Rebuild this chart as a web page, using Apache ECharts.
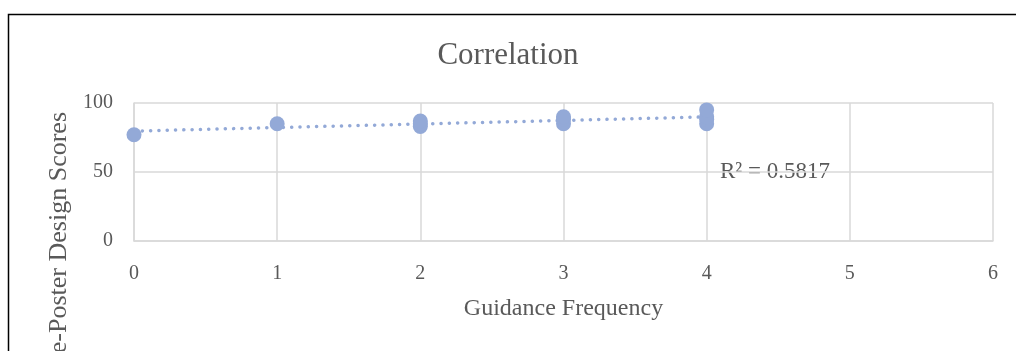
<!DOCTYPE html>
<html><head><meta charset="utf-8">
<script src="https://cdn.jsdelivr.net/npm/echarts@6/dist/echarts.min.js"></script>
<style>html,body{margin:0;padding:0;background:#fff}#c{width:1016px;height:351px}</style>
</head><body><div id="c"></div>
<script>
const guidance = [0, 1, 2, 2, 2, 3, 3, 3, 4, 4, 4, 4];
const scores   = [77, 85, 83, 85, 87, 85, 88, 90, 85, 88, 90, 95];
const xTicks = [0, 1, 2, 3, 4, 5, 6];
const yTicks = [0, 50, 100];
const rSquaredText = 'R² = 0.5817';

// linear trendline from the data
const n = guidance.length;
const mx = guidance.reduce((a,b)=>a+b,0)/n;
const my = scores.reduce((a,b)=>a+b,0)/n;
let sxy=0, sxx=0;
for (let i=0;i<n;i++){ sxy+=(guidance[i]-mx)*(scores[i]-my); sxx+=(guidance[i]-mx)**2; }
const slope = sxy/sxx, icpt = my - slope*mx;
const xMinD = Math.min(...guidance), xMaxD = Math.max(...guidance);
const trend = [[xMinD, icpt+slope*xMinD],[xMaxD, icpt+slope*xMaxD]];

const font = '"Liberation Serif", "DejaVu Serif", serif';
const gray = '#595959';
const mark = '#93A9D7';
const chart = echarts.init(document.getElementById('c'));
chart.setOption({
  animation:false,
  title:{text:'Correlation', left:'center', top:35, textStyle:{fontFamily:font,fontWeight:'normal',fontSize:31,color:gray}},
  grid:{left:134,right:23,top:103,bottom:110},
  xAxis:{type:'value',min:xTicks[0],max:xTicks[xTicks.length-1],interval:1,
    name:'Guidance Frequency',nameLocation:'middle',nameGap:56,
    nameTextStyle:{fontFamily:font,fontSize:24,color:gray},
    axisLine:{lineStyle:{color:'#d9d9d9',width:1.5}},axisTick:{show:false},
    axisLabel:{fontFamily:font,fontSize:20,color:gray,margin:23},
    splitLine:{show:true,lineStyle:{color:'#d9d9d9',width:1.5}}},
  yAxis:{type:'value',min:yTicks[0],max:yTicks[yTicks.length-1],interval:50,
    axisLine:{show:true,lineStyle:{color:'#d9d9d9',width:1.5}},axisTick:{show:false},
    axisLabel:{fontFamily:font,fontSize:20,color:gray,margin:21},
    splitLine:{show:true,lineStyle:{color:'#d9d9d9',width:1.5}}},
  graphic:[
    {type:'rect',shape:{x:8.5,y:14.5,width:1100,height:500},style:{fill:null,stroke:'#000',lineWidth:1.5},silent:true},
    {type:'text',x:59,y:112,rotation:Math.PI/2,style:{text:'e-Poster Design Scores',fontFamily:font,fontSize:26,fill:gray,align:'right',verticalAlign:'middle'}},
    {type:'text',x:720,y:172,style:{text:rSquaredText,fontFamily:font,fontSize:23,fill:gray,align:'left',verticalAlign:'middle'}}
  ],
  series:[
    {type:'line',data:trend,symbol:'none',z:3,
      lineStyle:{color:mark,width:3.5,type:[0.1,8.2],cap:'round'}},
    {type:'scatter',data:guidance.map((g,i)=>[g,scores[i]]),symbolSize:15,z:4,
      itemStyle:{color:mark,opacity:1}}
  ]
});
</script></body></html>
